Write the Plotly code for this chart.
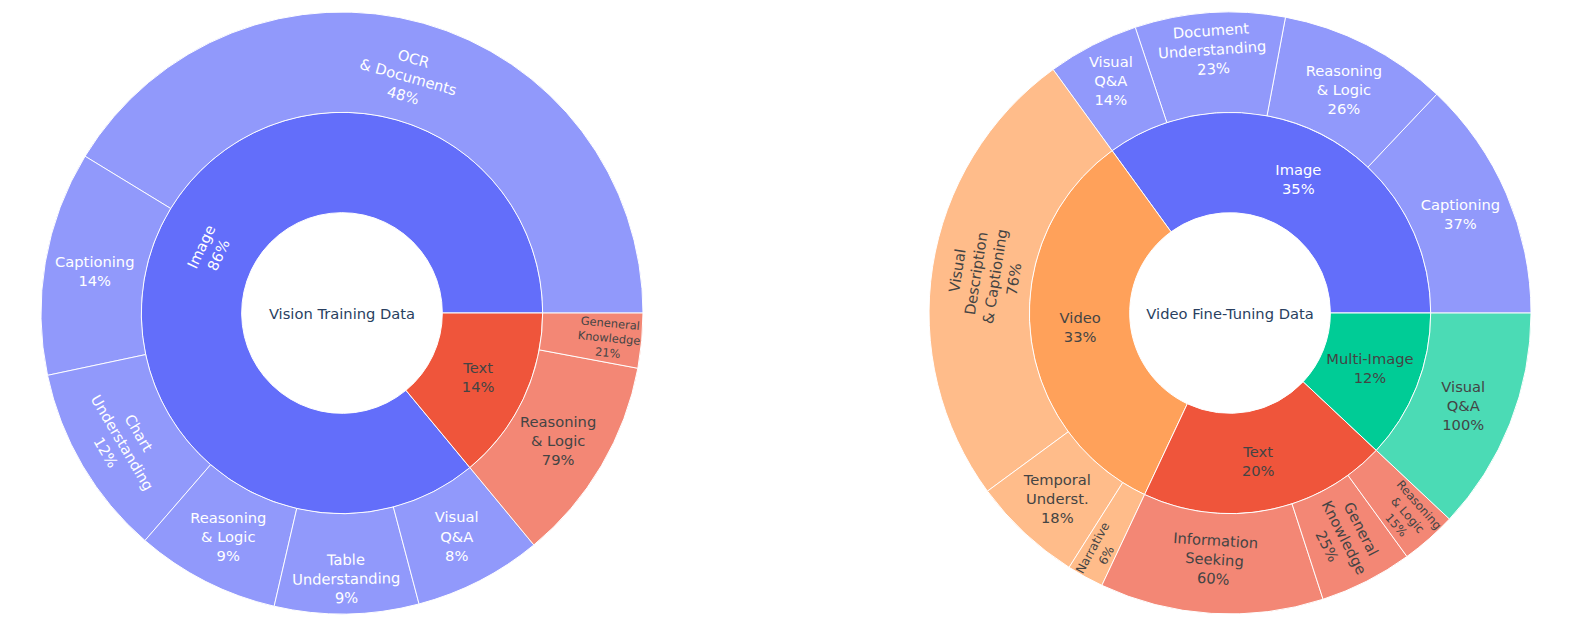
import plotly.graph_objects as go

# ---- Left: Vision Training Data ----
left_root = "Vision Training Data"
left_groups = ["Image", "Text"]
left_group_share = [86, 14]
left_children = {
    "Image": (["OCR<br>& Documents", "Captioning", "Chart<br>Understanding",
               "Reasoning<br>& Logic", "Table<br>Understanding", "Visual<br>Q&A"],
              [48, 14, 12, 9, 9, 8]),
    "Text": (["Geneneral<br>Knowledge", "Reasoning<br>& Logic"],
             [21, 79]),
}

# ---- Right: Video Fine-Tuning Data ----
right_root = "Video Fine-Tuning Data"
right_groups = ["Image", "Video", "Text", "Multi-Image"]
right_group_share = [35, 33, 20, 12]
right_children = {
    "Image": (["Captioning", "Reasoning<br>& Logic", "Document<br>Understanding", "Visual<br>Q&A"],
              [37, 26, 23, 14]),
    "Video": (["Visual<br>Description<br>& Captioning", "Temporal<br>Underst.", "Narrative"],
              [76, 18, 6]),
    "Text": (["Information<br>Seeking", "General<br>Knowledge", "Reasoning<br>& Logic"],
             [60, 25, 15]),
    "Multi-Image": (["Visual<br>Q&A"], [100]),
}

group_colors = {"Image": "#636EFA", "Text": "#EF553B", "Video": "#FFA15A", "Multi-Image": "#00CC96"}


def build(root, groups, shares, children):
    ids, labels, parents, values, colors, tt = [root], [root], [""], [0], ["rgba(0,0,0,0)"], ["%{label}"]
    for g, s in zip(groups, shares):
        gid = root + "/" + g
        ids.append(gid); labels.append(g); parents.append(root); values.append(0)
        colors.append(group_colors[g]); tt.append("%{label}<br>%{percentParent:.0%}")
        names, pcts = children[g]
        for n, p in zip(names, pcts):
            ids.append(gid + "/" + n); labels.append(n); parents.append(gid)
            values.append(s * p / 100.0)
            colors.append(group_colors[g]); tt.append("%{label}<br>%{percentParent:.0%}")
    return ids, labels, parents, values, colors, tt


fig = go.Figure()
for (root, groups, shares, children, dom) in [
    (left_root, left_groups, left_group_share, left_children, [0, 0.4329]),
    (right_root, right_groups, right_group_share, right_children, [0.557, 1]),
]:
    ids, labels, parents, values, colors, tt = build(root, groups, shares, children)
    fig.add_trace(go.Sunburst(
        ids=ids, labels=labels, parents=parents, values=values,
        branchvalues="remainder",
        texttemplate=tt,
        marker=dict(colors=colors, line=dict(color="white", width=1)),
        domain=dict(x=dom, y=[0, 1]),
        insidetextorientation="auto",
    ))

fig.update_layout(
    width=1580, height=640,
    margin=dict(l=0, r=0, t=12, b=26),
    font=dict(family="DejaVu Sans, Verdana, sans-serif", size=14.7),
    paper_bgcolor="white",
    showlegend=False,
)
fig.write_html("out.html")
